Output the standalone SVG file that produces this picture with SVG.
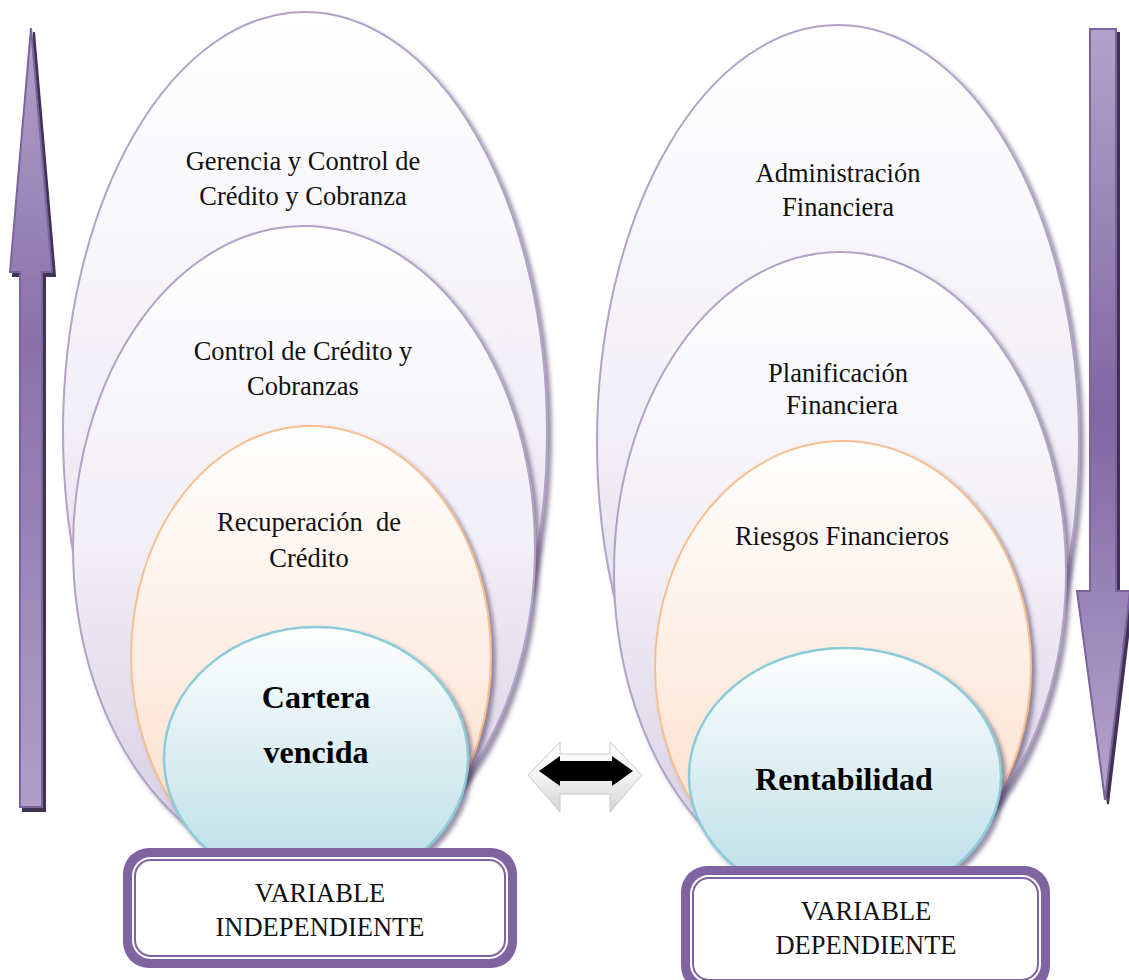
<svg xmlns="http://www.w3.org/2000/svg" width="1129" height="980" viewBox="0 0 1129 980">
  <defs>
    <linearGradient id="gPurple" x1="0" y1="0" x2="0" y2="1">
      <stop offset="0" stop-color="#ffffff"/>
      <stop offset="0.5" stop-color="#f1eef6"/>
      <stop offset="1" stop-color="#d5cbe2"/>
    </linearGradient>
    <linearGradient id="gOrange" x1="0" y1="0" x2="0" y2="1">
      <stop offset="0" stop-color="#ffffff"/>
      <stop offset="1" stop-color="#fbdcc7"/>
    </linearGradient>
    <linearGradient id="gCyan" x1="0" y1="0" x2="0" y2="1">
      <stop offset="0" stop-color="#ffffff"/>
      <stop offset="1" stop-color="#b7dce5"/>
    </linearGradient>
    <linearGradient id="gArrowUp" x1="0" y1="0" x2="0" y2="1">
      <stop offset="0" stop-color="#b1a3c9"/>
      <stop offset="0.4" stop-color="#8a70aa"/>
      <stop offset="1" stop-color="#ae9fc7"/>
    </linearGradient>
    <linearGradient id="gArrowDown" x1="0" y1="0" x2="0" y2="1">
      <stop offset="0" stop-color="#b1a3c9"/>
      <stop offset="0.5" stop-color="#8166a3"/>
      <stop offset="1" stop-color="#b4a6cc"/>
    </linearGradient>
    <linearGradient id="gSilver" x1="0" y1="0" x2="0" y2="1">
      <stop offset="0" stop-color="#ffffff"/>
      <stop offset="0.5" stop-color="#f2f2f2"/>
      <stop offset="1" stop-color="#d4d4d4"/>
    </linearGradient>
    <filter id="shadow" x="-10%" y="-10%" width="125%" height="125%">
      <feGaussianBlur in="SourceAlpha" stdDeviation="2"/>
      <feOffset dx="4" dy="4" result="b"/>
      <feFlood flood-color="#4b3a63" flood-opacity="0.55"/>
      <feComposite in2="b" operator="in"/>
      <feMerge><feMergeNode/><feMergeNode in="SourceGraphic"/></feMerge>
    </filter>
    <filter id="hard" x="-10%" y="-5%" width="130%" height="110%">
      <feOffset in="SourceAlpha" dx="3" dy="4" result="o"/>
      <feFlood flood-color="#3f3152"/>
      <feComposite in2="o" operator="in"/>
      <feMerge><feMergeNode/><feMergeNode in="SourceGraphic"/></feMerge>
    </filter>
  </defs>
  <style>
    .lbl { font-family: "Liberation Serif", "Times New Roman", serif; font-size: 26.5px; fill: #111; text-anchor: middle; }
    .big { font-family: "Liberation Serif", "Times New Roman", serif; font-size: 32px; font-weight: bold; fill: #000; text-anchor: middle; }
    .ep { fill: url(#gPurple); stroke: #b3a2c7; stroke-width: 2; }
    .eo { fill: url(#gOrange); stroke: #f7be8f; stroke-width: 2; }
    .ec { fill: url(#gCyan); stroke: #8ccbd9; stroke-width: 2.5; }
    .arr { stroke: #7c62a0; stroke-width: 2; }
  </style>

  <!-- vertical arrows -->
  <g id="arrow-up" filter="url(#hard)">
    <path class="arr" fill="url(#gArrowUp)" d="M31,28 L52,272 L42,272 L42,807 L20,807 L20,272 L10,272 Z"/>
  </g>
  <g id="arrow-down" filter="url(#hard)">
    <path class="arr" fill="url(#gArrowDown)" d="M1090,29 L1116,29 L1116,591 L1130,591 L1105,800 L1077,591 L1090,591 Z"/>
  </g>

  <!-- left nest -->
  <g id="gerencia" filter="url(#shadow)">
    <ellipse class="ep" cx="305" cy="432" rx="242" ry="420"/>
  </g>
  <g id="control" filter="url(#shadow)">
    <ellipse class="ep" cx="304" cy="548" rx="231" ry="322"/>
  </g>
  <g id="recuperacion" filter="url(#shadow)">
    <ellipse class="eo" cx="311" cy="656" rx="180" ry="230"/>
  </g>
  <g id="cartera" filter="url(#shadow)">
    <ellipse class="ec" cx="316" cy="758" rx="152" ry="131"/>
  </g>

  <!-- right nest -->
  <g id="administracion" filter="url(#shadow)">
    <ellipse class="ep" cx="838" cy="442" rx="241" ry="417"/>
  </g>
  <g id="planificacion" filter="url(#shadow)">
    <ellipse class="ep" cx="840" cy="572" rx="226" ry="320"/>
  </g>
  <g id="riesgos" filter="url(#shadow)">
    <ellipse class="eo" cx="843" cy="667" rx="188" ry="226"/>
  </g>
  <g id="rentabilidad" filter="url(#shadow)">
    <ellipse class="ec" cx="845" cy="776" rx="156" ry="128"/>
  </g>

  <!-- labels -->
  <g id="labels">
    <text class="lbl" x="303" y="170">Gerencia y Control de</text>
    <text class="lbl" x="303" y="205">Crédito y Cobranza</text>
    <text class="lbl" x="303" y="360">Control de Crédito y</text>
    <text class="lbl" x="303" y="395">Cobranzas</text>
    <text class="lbl" x="309" y="531" xml:space="preserve">Recuperación  de</text>
    <text class="lbl" x="309" y="567">Crédito</text>
    <text class="big" x="316" y="708">Cartera</text>
    <text class="big" x="316" y="763">vencida</text>
    <text class="lbl" x="838" y="182">Administración</text>
    <text class="lbl" x="838" y="216">Financiera</text>
    <text class="lbl" x="838" y="382">Planificación</text>
    <text class="lbl" x="842" y="414">Financiera</text>
    <text class="lbl" x="842" y="545">Riesgos Financieros</text>
    <text class="big" x="844" y="790">Rentabilidad</text>
  </g>

  <!-- connectors -->
  <g id="connectors">
    <path fill="url(#gSilver)" stroke="#c8c8c8" stroke-width="1" d="M528,775 L560,742 L560,754 L610,754 L610,742 L642,775 L610,812 L610,794 L560,794 L560,812 Z"/>
    <path fill="#000" d="M539,771 L560,756 L560,761 L612,761 L612,756 L633,771 L612,786 L612,781 L560,781 L560,786 Z"/>
  </g>

  <!-- variable boxes -->
  <g id="box-independiente">
    <rect x="123" y="848" width="394" height="120" rx="26" fill="#8064a2"/>
    <rect x="132" y="857" width="376" height="102" rx="19" fill="#fff"/>
    <rect x="135" y="860" width="370" height="96" rx="16" fill="none" stroke="#8064a2" stroke-width="2"/>
    <text class="lbl" x="320" y="902">VARIABLE</text>
    <text class="lbl" x="320" y="936">INDEPENDIENTE</text>
  </g>
  <g id="box-dependiente">
    <rect x="681" y="866" width="369" height="126" rx="26" fill="#8064a2"/>
    <rect x="690" y="875" width="351" height="108" rx="19" fill="#fff"/>
    <rect x="693" y="878" width="345" height="102" rx="16" fill="none" stroke="#8064a2" stroke-width="2"/>
    <text class="lbl" x="866" y="920">VARIABLE</text>
    <text class="lbl" x="866" y="954">DEPENDIENTE</text>
  </g>
</svg>
